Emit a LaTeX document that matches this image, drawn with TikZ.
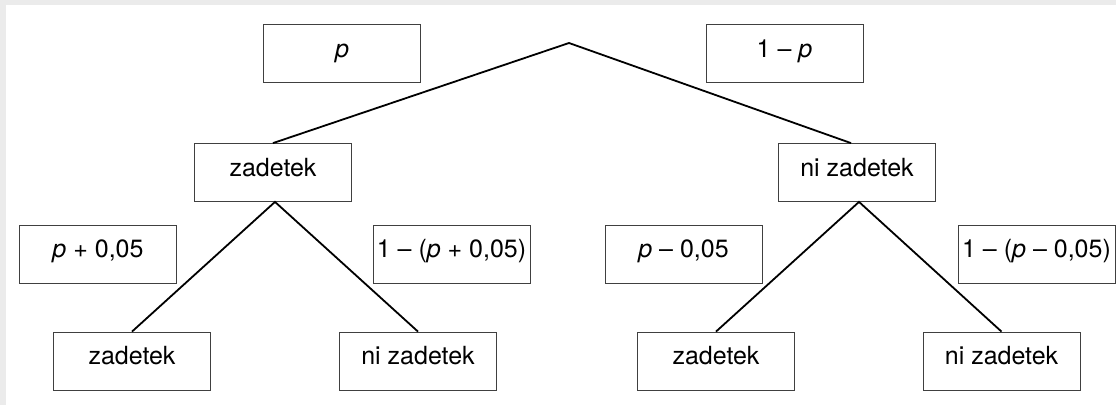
\documentclass[tikz,border=0pt]{standalone}
\usepackage{fontspec}
\setmainfont{TeX Gyre Heros}
\begin{document}
\begin{tikzpicture}[x=1pt,y=-1pt,
  box/.style={draw=black!75, line width=0.8pt, fill=white, minimum width=157pt, minimum height=58pt,
    inner sep=0pt, text height=0.72em, text depth=0pt, font=\fontsize{25}{30}\selectfont},
  branch/.style={line width=1.8pt, black}]
\useasboundingbox (0,0) rectangle (1116,405);
\fill[black!8] (0,0) rectangle (1116,405);
\fill[white] (6,5) rectangle (1116,405);
% probability labels
\node[box] (lp) at (342,53.5) {\itshape p};
\node[box] (lq) at (784.5,53.5) {1 – \itshape p};
\node[box] (l1) at (98,254) {{\itshape p} + 0,05};
\node[box] (l2) at (451.5,254) {1 – ({\itshape p} + 0,05)};
\node[box] (l3) at (683.5,254) {{\itshape p} – 0,05};
\node[box] (l4) at (1036.5,254) {1 – ({\itshape p} – 0,05)};
% tree
\coordinate (root) at (569,43);
\node[box] (z) at (273,172.5) {zadetek};
\node[box] (n) at (857,172.5) {ni zadetek};
\node[box] (zz) at (132,361) {zadetek};
\node[box] (zn) at (418,361) {ni zadetek};
\node[box] (nz) at (716,361) {zadetek};
\node[box] (nn) at (1001.5,361) {ni zadetek};
\draw[branch] (z.north) -- (root) -- ([xshift=-6pt]n.north);
\draw[branch] (zz.north) -- ([xshift=2pt]z.south) -- (zn.north);
\draw[branch] (nz.north) -- ([xshift=2pt]n.south) -- (nn.north);
\end{tikzpicture}
\end{document}
